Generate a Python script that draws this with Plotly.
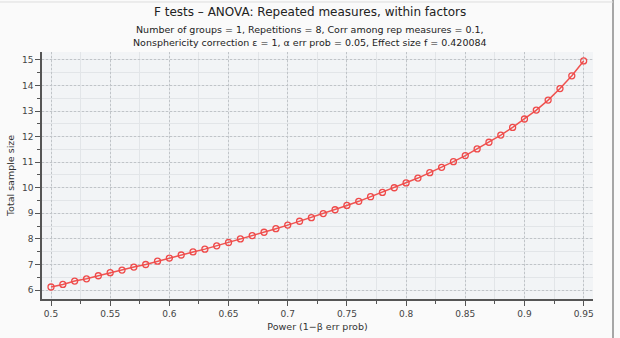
import plotly.graph_objects as go

power = [0.50, 0.51, 0.52, 0.53, 0.54, 0.55, 0.56, 0.57, 0.58, 0.59,
         0.60, 0.61, 0.62, 0.63, 0.64, 0.65, 0.66, 0.67, 0.68, 0.69,
         0.70, 0.71, 0.72, 0.73, 0.74, 0.75, 0.76, 0.77, 0.78, 0.79,
         0.80, 0.81, 0.82, 0.83, 0.84, 0.85, 0.86, 0.87, 0.88, 0.89,
         0.90, 0.91, 0.92, 0.93, 0.94, 0.95]
sample_size = [6.12, 6.22, 6.35, 6.44, 6.56, 6.68, 6.78, 6.90, 7.00, 7.13,
               7.25, 7.37, 7.49, 7.60, 7.73, 7.86, 8.00, 8.13, 8.26, 8.40,
               8.54, 8.69, 8.83, 8.99, 9.14, 9.31, 9.47, 9.65, 9.82, 10.00,
               10.19, 10.38, 10.59, 10.80, 11.02, 11.26, 11.52, 11.78, 12.06, 12.36,
               12.69, 13.04, 13.43, 13.88, 14.38, 14.96]
x_ticks = [0.5, 0.55, 0.6, 0.65, 0.7, 0.75, 0.8, 0.85, 0.9, 0.95]
x_labels = ["0.5", "0.55", "0.6", "0.65", "0.7", "0.75", "0.8", "0.85", "0.9", "0.95"]
y_ticks = [6, 7, 8, 9, 10, 11, 12, 13, 14, 15]

title = "F tests – ANOVA: Repeated measures, within factors"
subtitle1 = "Number of groups = 1, Repetitions = 8, Corr among rep measures = 0.1,"
subtitle2 = "Nonsphericity correction ε = 1, α err prob = 0.05, Effect size f = 0.420084"
x_title = "Power (1−β err prob)"
y_title = "Total sample size"

FONT = "DejaVu Sans"
TXT = "#333333"
L, R, T, B = 42, 27, 52, 39
W, H = 620, 338
PW = W - L - R
PH = H - T - B

fig = go.Figure()
fig.add_trace(go.Scatter(
    x=power, y=sample_size, mode="lines+markers",
    line=dict(color="#ef5350", width=1.5),
    marker=dict(symbol="circle-open", size=6, color="#ef4a4a", line=dict(width=1.3)),
    showlegend=False, hoverinfo="x+y"))

axis_common = dict(
    showline=True, linecolor="#555555", linewidth=1.5, mirror=False,
    ticks="outside", ticklen=5, tickcolor="#555555", tickwidth=1,
    showgrid=True, gridcolor="#c0c4c8", griddash="2px,2px", gridwidth=1,
    zeroline=False, automargin=False, tickfont=dict(family=FONT, size=9, color="#444444"),
)

fig.update_xaxes(
    range=[0.4924, 0.9579], tickvals=x_ticks, ticktext=x_labels,
    title=dict(text=x_title, font=dict(family=FONT, size=9.5, color=TXT), standoff=6),
    minor=dict(dtick=0.025, tick0=0.5, ticks="outside", ticklen=3, tickcolor="#555555",
               showgrid=True, gridcolor="#e2e5e8", griddash="solid"),
    **axis_common)
fig.update_yaxes(
    range=[5.65, 15.31], tickvals=y_ticks,
    title=dict(text=y_title, font=dict(family=FONT, size=9.5, color=TXT), standoff=6),
    minor=dict(dtick=0.5, tick0=6, ticks="outside", ticklen=3, tickcolor="#555555",
               showgrid=True, gridcolor="#e2e5e8", griddash="solid"),
    **axis_common)

cx = (310 - L) / PW
fig.update_layout(annotations=[
    dict(text=title, xref="paper", yref="paper", x=cx, y=1, yshift=T - 12,
         xanchor="center", yanchor="middle", showarrow=False,
         font=dict(family=FONT, size=12, color="#222222")),
    dict(text=subtitle1, xref="paper", yref="paper", x=cx, y=1, yshift=T - 29,
         xanchor="center", yanchor="middle", showarrow=False,
         font=dict(family=FONT, size=9.5, color="#222222")),
    dict(text=subtitle2, xref="paper", yref="paper", x=cx, y=1, yshift=T - 42,
         xanchor="center", yanchor="middle", showarrow=False,
         font=dict(family=FONT, size=9.5, color="#222222")),
])

# thin outer frame of the window
fx = (613 - L) / PW
fig.update_layout(shapes=[
    dict(type="line", xref="paper", yref="paper", x0=fx, x1=fx,
         y0=-(B) / PH, y1=1 + T / PH, line=dict(color="#8a8a8a", width=1.5)),
    dict(type="line", xref="paper", yref="paper", x0=-L / PW, x1=fx,
         y0=1 + (T - 2) / PH, y1=1 + (T - 2) / PH, line=dict(color="#dddddd", width=1)),
])

fig.update_layout(
    width=W, height=H,
    margin=dict(l=L, r=R, t=T, b=B),
    paper_bgcolor="#fafafa", plot_bgcolor="#f2f4f6",
    font=dict(family=FONT, color=TXT),
)
fig.write_html("out.html")
